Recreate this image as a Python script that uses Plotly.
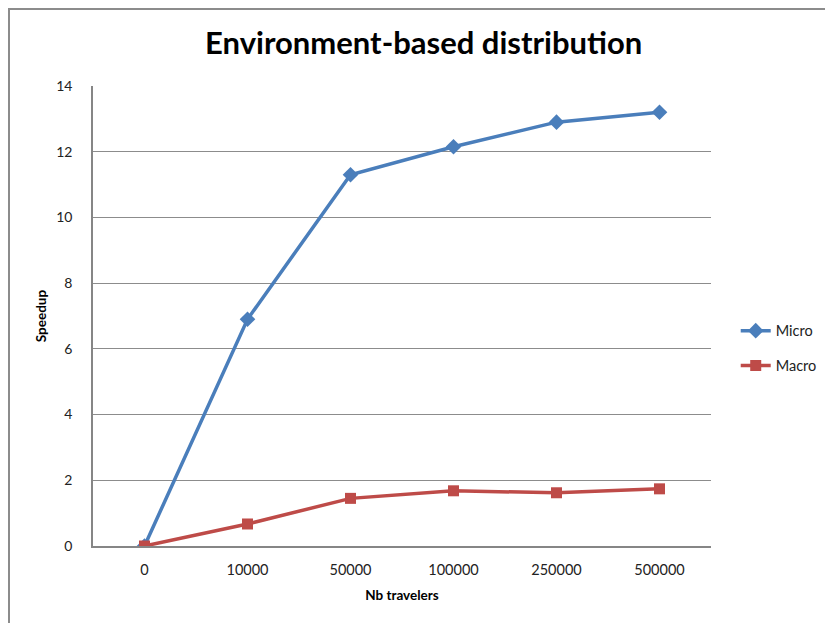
import plotly.graph_objects as go

categories = ["0", "10000", "50000", "100000", "250000", "500000"]
micro = [0, 6.9, 11.3, 12.15, 12.9, 13.2]
macro = [0, 0.67, 1.45, 1.68, 1.62, 1.74]
y_ticks = [0, 2, 4, 6, 8, 10, 12, 14]

fig = go.Figure()
fig.add_trace(go.Scatter(
    x=categories, y=micro, name="Micro", mode="lines+markers",
    line=dict(color="#4A7EBB", width=3.5),
    marker=dict(symbol="diamond", size=12, color="#4A7EBB"),
    legendgroup="a",
))
fig.add_trace(go.Scatter(
    x=categories, y=macro, name="Macro", mode="lines+markers",
    line=dict(color="#BE4B48", width=3.5),
    marker=dict(symbol="square", size=11, color="#BE4B48"),
    legendgroup="b",
))

font_family = "Lato, 'Open Sans', sans-serif"
fig.update_layout(
    width=833, height=623,
    margin=dict(l=85, r=130, t=78, b=85, autoexpand=False),
    paper_bgcolor="white", plot_bgcolor="white",
    title=dict(text="<b>Environment-based distribution</b>", x=0.499, xanchor="center",
               y=0.943, yanchor="middle",
               font=dict(family=font_family, size=31, color="#000000")),
    font=dict(family=font_family, size=14, color="#222222"),
    showlegend=True,
    legend=dict(x=1.04, xanchor="left", y=0.43, yanchor="middle",
                traceorder="grouped", tracegroupgap=13,
                font=dict(size=14.5, color="#222222"), itemwidth=30),
    xaxis=dict(type="category", range=[-0.5, 5.5], showgrid=False,
               showline=True, linecolor="#868686", linewidth=1.5,
               ticks="", ticklabelstandoff=10, automargin=False,
               tickfont=dict(size=14.5, color="#222222"),
               title=dict(text="<b>Nb travelers</b>", standoff=13,
                          font=dict(size=13.5, color="#000000"))),
    yaxis=dict(range=[0, 14], tickvals=y_ticks, showgrid=True,
               gridcolor="#8C8C8C", gridwidth=1,
               showline=True, linecolor="#868686", linewidth=1.5,
               ticks="", ticklabelstandoff=16, zeroline=False, automargin=False,
               tickfont=dict(size=14, color="#222222"),
               title=dict(text="<b>Speedup</b>", standoff=6,
                          font=dict(size=13.5, color="#000000"))),
    shapes=[dict(type="rect", xref="paper", yref="paper",
                 x0=(9 - 93) / 618, x1=(845 - 93) / 618,
                 y0=(546 - 640) / 460, y1=(546 - 9) / 460,
                 line=dict(color="#8C8C8C", width=2), layer="below")],
)

fig.write_html("out.html")
